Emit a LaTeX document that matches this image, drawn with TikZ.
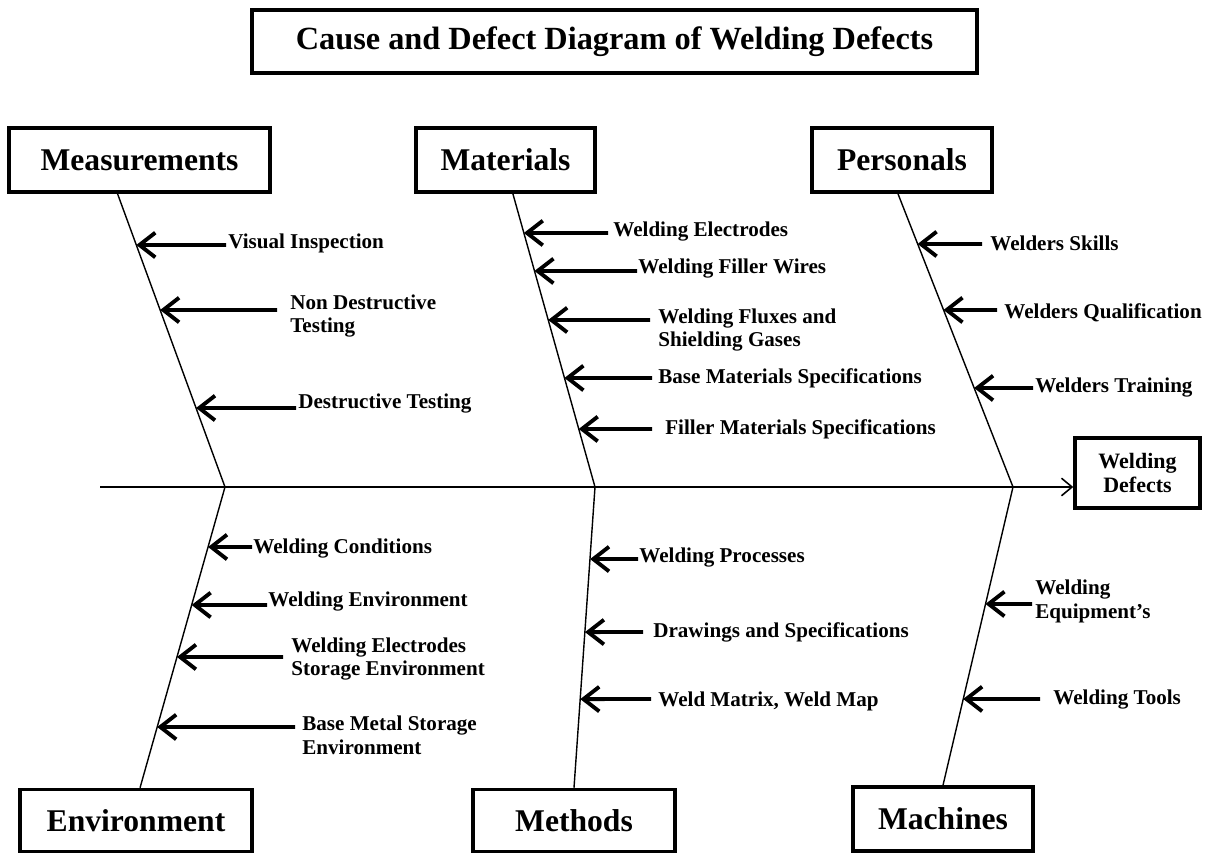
\documentclass[tikz,border=0pt]{standalone}
\usepackage{fontspec}
\setmainfont{Liberation Serif}
\usetikzlibrary{arrows.meta}

\tikzset{
	box/.style={draw, line width=2pt, inner sep=0pt, align=center,
		font=\fontsize{18}{21}\selectfont\bfseries},
	cause/.style={anchor=west, inner sep=0pt, align=left,
		font=\fontsize{12}{13.6}\selectfont\bfseries},
	causearrow/.style={line width=2.2pt, -{Straight Barb[length=9pt,width=14pt]}},
	bone/.style={line width=0.8pt},
	spine/.style={line width=0.9pt, -{Straight Barb[length=6pt,width=10pt]}}
}

\begin{document}
\begin{tikzpicture}[x=0.02cm, y=-0.02cm]
	\useasboundingbox (0,0) rectangle (1217,854);

	% boxes
	\node[box, minimum width=14.5cm, minimum height=1.26cm, font=\fontsize{18.4}{21}\selectfont\bfseries] (title) at (614.5,41.5) {Cause and Defect Diagram of Welding Defects};
	\node[box, minimum width=5.22cm, minimum height=1.28cm] (meas) at (139.5,160) {Measurements};
	\node[box, minimum width=3.58cm, minimum height=1.28cm] (mat) at (505.5,160) {Materials};
	\node[box, minimum width=3.6cm, minimum height=1.28cm] (pers) at (902,160) {Personals};
	\node[box, minimum width=2.5cm, minimum height=1.4cm, font=\fontsize{12.5}{14}\selectfont\bfseries] (defect) at (1137.5,473) {Welding\\Defects};
	\node[box, minimum width=4.64cm, minimum height=1.24cm] (env) at (136,820.5) {Environment};
	\node[box, minimum width=4.04cm, minimum height=1.24cm] (meth) at (574,820.5) {Methods};
	\node[box, minimum width=3.6cm, minimum height=1.28cm] (mach) at (943,819) {Machines};

	% spine
	\coordinate (tail) at (100,487);
	\coordinate (j1) at (225,487);
	\coordinate (j2) at (595,487);
	\coordinate (j3) at (1013,487);
	\draw[spine] (tail) -- (defect.west |- tail);

	% bones
	\coordinate (b1) at ([xshift=-12.5pt]meas.south);
	\coordinate (b2) at ([xshift=4.2pt]mat.south);
	\coordinate (b3) at ([xshift=-2.3pt]pers.south);
	\coordinate (b4) at ([xshift=2.3pt]env.north);
	\coordinate (b5) at (meth.north);
	\coordinate (b6) at (mach.north);
	\draw[bone] (b1) -- (j1) -- (b4);
	\draw[bone] (b2) -- (j2) -- (b5);
	\draw[bone] (b3) -- (j3) -- (b6);

	% measurements
	\foreach \nm/\tx/\ty/\lx/\ly/\txt in {vi/226/245/228/243/{Visual Inspection},
		ndt/277/310/290/316/{Non Destructive\\Testing},
		dt/296/408/298/404/{Destructive Testing}} {
		\node[cause] (\nm) at (\lx,\ly) {\txt};
		\coordinate (\nm-a) at (\tx,\ty);
		\coordinate (\nm-b) at (\tx-10,\ty);
		\draw[causearrow] (\nm-a) -- (intersection of \nm-a--\nm-b and b1--j1);
	}

	% materials
	\foreach \nm/\tx/\ty/\lx/\ly/\txt in {we/608/233/613/232/{Welding Electrodes},
		fw/637/271/638/269/{Welding Filler Wires},
		fx/650/320/658/330/{Welding Fluxes and\\Shielding Gases},
		bm/652/378/658/378/{Base Materials Specifications},
		fm/652/429/665/429/{Filler Materials Specifications}} {
		\node[cause] (\nm) at (\lx,\ly) {\txt};
		\coordinate (\nm-a) at (\tx,\ty);
		\coordinate (\nm-b) at (\tx-10,\ty);
		\draw[causearrow] (\nm-a) -- (intersection of \nm-a--\nm-b and b2--j2);
	}

	% personals
	\foreach \nm/\tx/\ty/\lx/\ly/\txt in {wsk/982/244/990/243/{Welders Skills},
		wq/997/310/1004/313/{Welders Qualification},
		wtr/1033/388/1035/388/{Welders Training}} {
		\node[cause] (\nm) at (\lx,\ly) {\txt};
		\coordinate (\nm-a) at (\tx,\ty);
		\coordinate (\nm-b) at (\tx-10,\ty);
		\draw[causearrow] (\nm-a) -- (intersection of \nm-a--\nm-b and b3--j3);
	}

	% environment
	\foreach \nm/\tx/\ty/\lx/\ly/\txt in {wc/252/547/253/549/{Welding Conditions},
		wen/267/605/268/602/{Welding Environment},
		wes/283/657/291/659/{Welding Electrodes\\Storage Environment},
		bms/295/727/302/735/{Base Metal Storage\\Environment}} {
		\node[cause] (\nm) at (\lx,\ly) {\txt};
		\coordinate (\nm-a) at (\tx,\ty);
		\coordinate (\nm-b) at (\tx-10,\ty);
		\draw[causearrow] (\nm-a) -- (intersection of \nm-a--\nm-b and j1--b4);
	}

	% methods
	\foreach \nm/\tx/\ty/\lx/\ly/\txt in {wp/638/559/639/558/{Welding Processes},
		ds/643/632/653/632/{Drawings and Specifications},
		wm/651/699/658/701/{Weld Matrix, Weld Map}} {
		\node[cause] (\nm) at (\lx,\ly) {\txt};
		\coordinate (\nm-a) at (\tx,\ty);
		\coordinate (\nm-b) at (\tx-10,\ty);
		\draw[causearrow] (\nm-a) -- (intersection of \nm-a--\nm-b and j2--b5);
	}

	% machines
	\foreach \nm/\tx/\ty/\lx/\ly/\txt in {weq/1032/604/1035/601/{Welding\\Equipment's},
		wtl/1040/699/1053/700/{Welding Tools}} {
		\node[cause] (\nm) at (\lx,\ly) {\txt};
		\coordinate (\nm-a) at (\tx,\ty);
		\coordinate (\nm-b) at (\tx-10,\ty);
		\draw[causearrow] (\nm-a) -- (intersection of \nm-a--\nm-b and j3--b6);
	}
\end{tikzpicture}
\end{document}
